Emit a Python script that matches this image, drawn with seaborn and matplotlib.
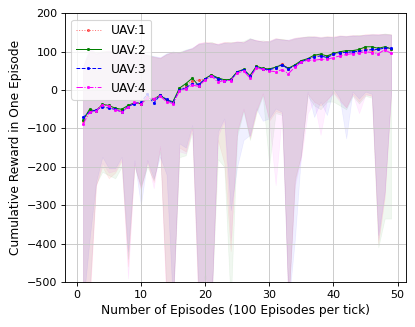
import numpy as np
import seaborn as sns
import matplotlib
matplotlib.use("Agg")
import matplotlib.pyplot as plt

episodes = np.arange(1, 50)

# mean reward per tick
uav1_mean = [-80, -55, -52, -38, -42, -48, -53, -44, -33, -36, -19, -24, -14, -27, -32, 2, 12, 24, 26, 29,
             39, 30, 26, 27, 47, 52, 37, 62, 56, 54, 57, 69, 55, 65, 76, 81, 88, 92, 87, 95,
             97, 100, 102, 104, 110, 100, 107, 111, 108]
uav2_mean = [-78, -50, -55, -37, -40, -47, -50, -40, -33, -35, -20, -24, -13, -26, -30, 5, 17, 31, 12, 30,
             40, 32, 27, 28, 48, 54, 38, 62, 57, 55, 60, 66, 57, 66, 77, 82, 91, 94, 89, 96,
             100, 103, 103, 106, 113, 113, 109, 113, 108]
uav3_mean = [-71, -57, -52, -43, -47, -50, -57, -43, -35, -32, -11, -34, -13, -24, -33, 0, 6, 17, 15, 28,
             38, 30, 24, 26, 47, 53, 36, 60, 55, 53, 58, 66, 55, 64, 74, 80, 87, 89, 85, 93,
             98, 98, 100, 101, 104, 106, 106, 110, 109]
uav4_mean = [-88, -58, -55, -38, -41, -51, -57, -45, -32, -37, -20, -22, -16, -30, -35, -3, 4, 13, 10, 26,
             37, 21, 25, 25, 44, 50, 32, 58, 54, 50, 48, 53, 43, 60, 73, 78, 78, 80, 80, 85,
             89, 93, 95, 97, 100, 98, 95, 105, 96]

# upper bound of the band
uav1_hi = [64, 105, 98, 100, 104, 98, 110, 104, 98, 96, 90, 86, 84, 93, 100, 98, 103, 110, 122, 126,
           124, 121, 126, 124, 127, 125, 134, 131, 127, 129, 136, 133, 131, 137, 139, 140, 141, 139, 141, 140,
           143, 142, 144, 143, 146, 147, 146, 147, 146]
uav2_hi = [60, 100, 95, 103, 100, 101, 112, 100, 101, 94, 93, 88, 83, 95, 98, 100, 106, 108, 120, 122,
           126, 118, 124, 126, 125, 128, 136, 128, 130, 126, 133, 134, 129, 134, 137, 141, 139, 136, 140, 137,
           141, 140, 142, 144, 143, 145, 144, 148, 145]
uav3_hi = [62, 113, 96, 98, 103, 96, 112, 100, 97, 98, 92, 89, 86, 96, 101, 97, 105, 111, 121, 124,
           122, 120, 123, 122, 126, 124, 135, 130, 126, 128, 135, 132, 132, 136, 138, 139, 140, 138, 139, 138,
           142, 141, 143, 142, 144, 146, 145, 146, 145]
uav4_hi = [63, 108, 94, 101, 102, 99, 111, 102, 99, 97, 91, 87, 85, 94, 100, 99, 104, 109, 123, 125,
           123, 121, 125, 124, 128, 126, 133, 130, 128, 127, 134, 131, 130, 135, 137, 138, 139, 137, 138, 139,
           141, 140, 142, 141, 145, 144, 146, 145, 144]

# lower bound of the band
uav1_lo = [-560, -560, -250, -200, -230, -215, -185, -460, -195, -260, -190, -240, -150, -560, -560, -150, -160, -100, -560, -560,
           -560, -130, -190, -420, -110, -50, -125, -55, -10, -80, -55, -60, -560, -230, -170, -10, -30, -40, -25, -5,
           -25, -45, -10, -30, -10, -15, -400, -280, -10]
uav2_lo = [-560, -520, -245, -213, -222, -230, -200, -440, -200, -250, -200, -235, -160, -520, -560, -175, -170, -110, -560, -480,
           -560, -180, -200, -560, -120, -55, -130, -60, -15, -196, -60, -65, -560, -240, -165, -15, -40, -50, -30, -30,
           -40, -50, -15, -35, -15, -20, -410, -335, -335]
uav3_lo = [-560, -390, -240, -174, -204, -204, -174, -421, -183, -300, -183, -230, -174, -220, -560, -139, -150, -91, -520, -510,
           -560, -109, -74, -313, -200, -130, -117, -48, -80, -74, -48, -57, -560, -390, -161, -4, -70, -30, -65, 4,
           -22, -126, -4, -22, -4, -10, -378, -265, -5]
uav4_lo = [-560, -540, -250, -190, -215, -210, -180, -491, -190, -255, -183, -256, -145, -560, -560, -160, -165, -100, -590, -560,
           -560, -120, -80, -391, -105, -48, -120, -52, -8, -78, -248, -60, -560, -250, -175, -60, -30, -117, -25, -8,
           -30, -45, -10, -60, -12, -15, -390, -270, -8]

labels = ["UAV:1", "UAV:2", "UAV:3", "UAV:4"]
colors = ["red", "green", "blue", "magenta"]
styles = [":", "-", "--", "-."]
means = [uav1_mean, uav2_mean, uav3_mean, uav4_mean]
highs = [uav1_hi, uav2_hi, uav3_hi, uav4_hi]
lows = [uav1_lo, uav2_lo, uav3_lo, uav4_lo]

fig, ax = plt.subplots(figsize=(415 / 80, 327 / 80), dpi=80)
fig.subplots_adjust(left=0.157, right=0.978, top=0.959, bottom=0.138)

# bands first, lines on top
for c, hi, lo in zip(colors, highs, lows):
    ax.fill_between(episodes, lo, hi, color=c, alpha=0.06, linewidth=0.6)

for lab, c, ls, m in zip(labels, colors, styles, means):
    sns.lineplot(x=episodes, y=m, ax=ax, color=c, linestyle=ls, marker=".",
                 markeredgecolor=c, markersize=4, linewidth=0.9, label=lab,
                 alpha=0.55 if c == "red" else 1)

ax.set_xlim(-1.8, 51.3)
ax.set_ylim(-500, 200)
ax.set_xticks(range(0, 51, 10))
ax.set_yticks(range(-500, 201, 100))
ax.grid(True, color="#c8c8c8")
ax.set_xlabel("Number of Episodes (100 Episodes per tick)", fontsize=11)
ax.set_ylabel("Cumulative Reward in One Episode", fontsize=11)
ax.legend(loc="upper left", fontsize=11)

plt.savefig("out.png", dpi=80)
plt.close()
